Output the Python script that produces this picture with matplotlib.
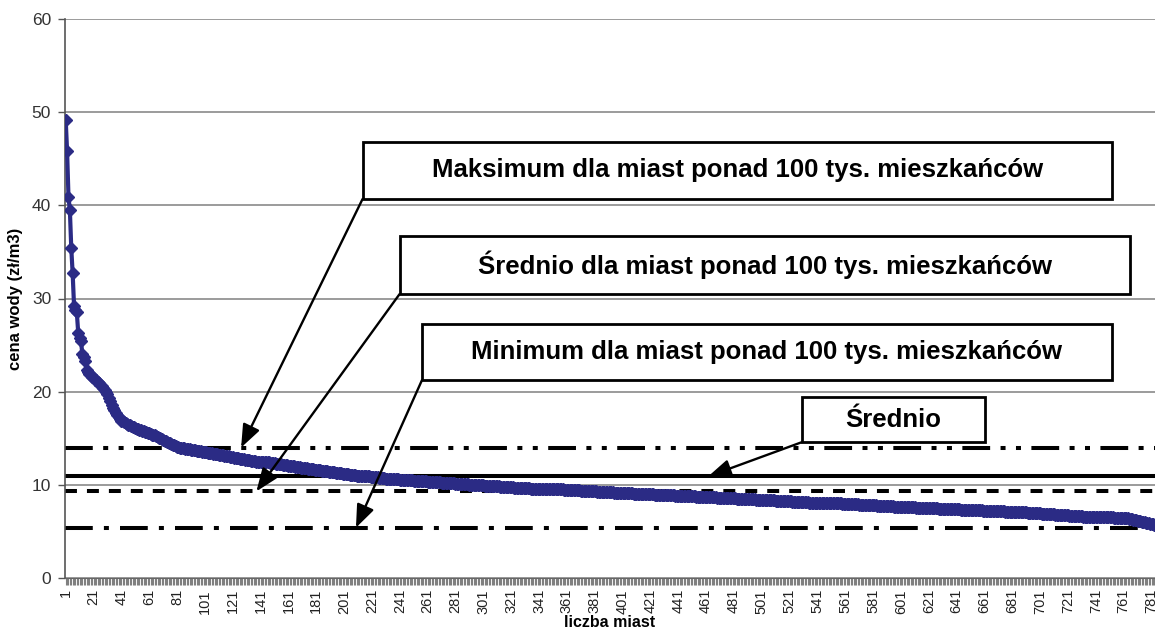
import numpy as np
import matplotlib
matplotlib.use("Agg")
import matplotlib.pyplot as plt
from matplotlib.patches import Rectangle

plt.rcParams['font.family'] = ['Liberation Sans', 'DejaVu Sans']
plt.rcParams['lines.scale_dashes'] = False

# water price per city, sorted descending (zl/m3)
prices = [
    49.2, 45.8, 40.9, 39.5, 35.4, 32.7, 29.2, 28.8, 28.5,
    26.3, 25.8, 25.4, 24.0, 23.7, 23.3,
    22.3, 22.1, 21.9, 21.8, 21.6, 21.5, 21.3, 21.2, 21.0, 20.9, 20.7, 20.6, 20.4, 20.2, 20.0,
    19.7, 19.3, 19.0, 18.6, 18.3, 18.0, 17.7, 17.5, 17.3, 17.1, 16.9, 16.8, 16.7, 16.6,
    16.5, 16.4, 16.4, 16.3, 16.2, 16.2, 16.1, 16.0, 16.0, 15.9, 15.9, 15.8, 15.8, 15.7, 15.7, 15.6, 15.6,
    15.5, 15.4, 15.3, 15.3, 15.2, 15.1, 15.0, 15.0, 14.9, 14.8, 14.7, 14.7, 14.6, 14.5, 14.5, 14.4,
    14.3, 14.3, 14.2, 14.1, 14.1, 14.0,
    13.9, 13.9, 13.9,
    13.8, 13.8, 13.8, 13.8,
    13.7, 13.7, 13.7, 13.7,
    13.6, 13.6, 13.6, 13.6,
    13.5, 13.5, 13.5, 13.5,
    13.4, 13.4, 13.4, 13.4,
    13.3, 13.3, 13.3, 13.3,
    13.2, 13.2, 13.2, 13.2,
    13.1, 13.1, 13.1, 13.1,
    13.0, 13.0, 13.0,
    12.9, 12.9, 12.9, 12.9,
    12.8, 12.8, 12.8, 12.8,
    12.7, 12.7, 12.7, 12.7,
    12.6, 12.6, 12.6, 12.6,
    12.5, 12.5, 12.5, 12.5, 12.5,
    12.4, 12.4, 12.4, 12.4, 12.4,
    12.3, 12.3, 12.3, 12.3,
    12.2, 12.2, 12.2, 12.2, 12.2,
    12.1, 12.1, 12.1, 12.1,
    12.0, 12.0, 12.0, 12.0, 12.0,
    11.9, 11.9, 11.9, 11.9,
    11.8, 11.8, 11.8, 11.8, 11.8,
    11.7, 11.7, 11.7, 11.7, 11.7,
    11.6, 11.6, 11.6, 11.6, 11.6,
    11.5, 11.5, 11.5, 11.5, 11.5,
    11.4, 11.4, 11.4, 11.4, 11.4,
    11.3, 11.3, 11.3, 11.3, 11.3,
    11.2, 11.2, 11.2, 11.2, 11.2,
    11.1, 11.1, 11.1, 11.1, 11.1,
    11.0, 11.0, 11.0, 11.0, 11.0,
    10.9, 10.9, 10.9, 10.9, 10.9,
    10.8, 10.8, 10.8, 10.8, 10.8, 10.8,
    10.7, 10.7, 10.7, 10.7, 10.7,
    10.6, 10.6, 10.6, 10.6, 10.6, 10.6, 10.6, 10.6, 10.6, 10.6,
    10.5, 10.5, 10.5, 10.5, 10.5, 10.5, 10.5, 10.5, 10.5, 10.5,
    10.4, 10.4, 10.4, 10.4, 10.4, 10.4, 10.4, 10.4, 10.4, 10.4,
    10.3, 10.3, 10.3, 10.3, 10.3, 10.3, 10.3, 10.3, 10.3, 10.3,
    10.2, 10.2, 10.2, 10.2, 10.2, 10.2, 10.2, 10.2, 10.2, 10.2,
    10.1, 10.1, 10.1, 10.1, 10.1, 10.1, 10.1, 10.1, 10.1, 10.1,
    10.0, 10.0, 10.0, 10.0, 10.0, 10.0, 10.0, 10.0, 10.0, 10.0, 10.0,
    9.9, 9.9, 9.9, 9.9, 9.9, 9.9, 9.9, 9.9, 9.9, 9.9, 9.9,
    9.8, 9.8, 9.8, 9.8, 9.8, 9.8, 9.8, 9.8, 9.8, 9.8,
    9.7, 9.7, 9.7, 9.7, 9.7, 9.7, 9.7, 9.7, 9.7, 9.7, 9.7, 9.7,
    9.6, 9.6, 9.6, 9.6, 9.6, 9.6, 9.6, 9.6, 9.6, 9.6, 9.6, 9.6,
    9.5, 9.5, 9.5, 9.5, 9.5, 9.5, 9.5, 9.5, 9.5, 9.5, 9.5, 9.5,
    9.4, 9.4, 9.4, 9.4, 9.4, 9.4, 9.4, 9.4, 9.4, 9.4, 9.4, 9.4,
    9.3, 9.3, 9.3, 9.3, 9.3, 9.3, 9.3, 9.3, 9.3, 9.3, 9.3, 9.3,
    9.2, 9.2, 9.2, 9.2, 9.2, 9.2, 9.2, 9.2, 9.2, 9.2, 9.2, 9.2,
    9.1, 9.1, 9.1, 9.1, 9.1, 9.1, 9.1, 9.1, 9.1, 9.1, 9.1, 9.1, 9.1, 9.1,
    9.0, 9.0, 9.0, 9.0, 9.0, 9.0, 9.0, 9.0, 9.0, 9.0, 9.0, 9.0, 9.0, 9.0, 9.0,
    8.9, 8.9, 8.9, 8.9, 8.9, 8.9, 8.9, 8.9, 8.9, 8.9, 8.9, 8.9, 8.9, 8.9, 8.9,
    8.8, 8.8, 8.8, 8.8, 8.8, 8.8, 8.8, 8.8, 8.8, 8.8, 8.8, 8.8, 8.8, 8.8, 8.8,
    8.7, 8.7, 8.7, 8.7, 8.7, 8.7, 8.7, 8.7, 8.7, 8.7, 8.7, 8.7, 8.7, 8.7, 8.7,
    8.6, 8.6, 8.6, 8.6, 8.6, 8.6, 8.6, 8.6, 8.6, 8.6, 8.6, 8.6, 8.6, 8.6,
    8.5, 8.5, 8.5, 8.5, 8.5, 8.5, 8.5, 8.5, 8.5, 8.5, 8.5, 8.5, 8.5, 8.5,
    8.4, 8.4, 8.4, 8.4, 8.4, 8.4, 8.4, 8.4, 8.4, 8.4, 8.4, 8.4, 8.4, 8.4,
    8.3, 8.3, 8.3, 8.3, 8.3, 8.3, 8.3, 8.3, 8.3, 8.3, 8.3, 8.3,
    8.2, 8.2, 8.2, 8.2, 8.2, 8.2, 8.2, 8.2, 8.2, 8.2, 8.2, 8.2,
    8.1, 8.1, 8.1, 8.1, 8.1, 8.1, 8.1, 8.1, 8.1, 8.1, 8.1, 8.1,
    8.0, 8.0, 8.0, 8.0, 8.0, 8.0, 8.0, 8.0, 8.0, 8.0, 8.0, 8.0,
    7.9, 7.9, 7.9, 7.9, 7.9, 7.9, 7.9, 7.9, 7.9, 7.9, 7.9, 7.9,
    7.8, 7.8, 7.8, 7.8, 7.8, 7.8, 7.8, 7.8, 7.8, 7.8, 7.8, 7.8, 7.8,
    7.7, 7.7, 7.7, 7.7, 7.7, 7.7, 7.7, 7.7, 7.7, 7.7, 7.7, 7.7,
    7.6, 7.6, 7.6, 7.6, 7.6, 7.6, 7.6, 7.6, 7.6, 7.6, 7.6, 7.6, 7.6, 7.6, 7.6, 7.6,
    7.5, 7.5, 7.5, 7.5, 7.5, 7.5, 7.5, 7.5, 7.5, 7.5, 7.5, 7.5, 7.5, 7.5, 7.5, 7.5,
    7.4, 7.4, 7.4, 7.4, 7.4, 7.4, 7.4, 7.4, 7.4, 7.4, 7.4, 7.4, 7.4, 7.4, 7.4, 7.4,
    7.3, 7.3, 7.3, 7.3, 7.3, 7.3, 7.3, 7.3, 7.3, 7.3, 7.3, 7.3, 7.3, 7.3, 7.3, 7.3,
    7.2, 7.2, 7.2, 7.2, 7.2, 7.2, 7.2, 7.2, 7.2, 7.2, 7.2, 7.2, 7.2, 7.2, 7.2, 7.2,
    7.1, 7.1, 7.1, 7.1, 7.1, 7.1, 7.1, 7.1, 7.1, 7.1, 7.1, 7.1, 7.1, 7.1, 7.1, 7.1,
    7.0, 7.0, 7.0, 7.0, 7.0, 7.0, 7.0, 7.0, 7.0, 7.0,
    6.9, 6.9, 6.9, 6.9, 6.9, 6.9, 6.9, 6.9, 6.9, 6.9,
    6.8, 6.8, 6.8, 6.8, 6.8, 6.8, 6.8, 6.8, 6.8, 6.8,
    6.7, 6.7, 6.7, 6.7, 6.7, 6.7, 6.7, 6.7, 6.7, 6.7,
    6.6, 6.6, 6.6, 6.6, 6.6, 6.6, 6.6, 6.6, 6.6, 6.6, 6.6,
    6.5, 6.5, 6.5, 6.5, 6.5, 6.5, 6.5, 6.5, 6.5, 6.5, 6.5,
    6.4, 6.4, 6.4, 6.4, 6.4, 6.4, 6.4, 6.4, 6.4, 6.4,
    6.4, 6.3, 6.3, 6.3, 6.2, 6.2, 6.2, 6.1, 6.1, 6.1,
    6.0, 6.0, 6.0, 5.9, 5.9, 5.9, 5.8, 5.8, 5.8, 5.7,
]

# reference levels (zl/m3)
max_100k = 14.0
avg_all = 10.9
avg_100k = 9.3
min_100k = 5.4

labels = [
    "Maksimum dla miast ponad 100 tys. mieszkańców",
    "Średnio dla miast ponad 100 tys. mieszkańców",
    "Minimum dla miast ponad 100 tys. mieszkańców",
    "Średnio",
]

n = len(prices)
x = np.arange(1, n + 1)

fig = plt.figure(figsize=(11.55, 6.41), dpi=100)
ax = fig.add_axes([65 / 1155, 1 - 578 / 641, 1090 / 1155, 559 / 641])

navy = '#2b2b85'
ax.plot(x, prices, color=navy, lw=3, marker='D', ms=6.5, mfc=navy, mec=navy, zorder=3)

# horizontal reference lines
lw_ref = 2.9
ax.axhline(max_100k, color='black', lw=lw_ref, linestyle=(0, (20, 7.5, 3.6, 7.5, 3.6, 7.5)), zorder=2)
ax.axhline(avg_all, color='black', lw=lw_ref, zorder=2)
ax.axhline(avg_100k, color='black', lw=lw_ref, linestyle=(0, (8.6, 7.2)), zorder=2)
ax.axhline(min_100k, color='black', lw=lw_ref, linestyle=(0, (20, 8, 3.6, 8)), zorder=2)

ax.set_xlim(0.5, n + 0.5)
ax.set_ylim(0, 60)
ax.set_yticks(range(0, 61, 10))
ax.yaxis.grid(True, color='#8a8a8a', lw=1.2)
ax.set_axisbelow(True)

ax.set_xticks(x)
ax.set_xticklabels([str(i) if (i - 1) % 20 == 0 else '' for i in x], rotation=90)
ax.tick_params(axis='x', length=5, width=0.8, color='#808080', labelsize=10.5, labelcolor='#222222', pad=3)
ax.tick_params(axis='y', length=5, width=1, color='#555555', labelsize=12.5, labelcolor='#333333', pad=5)

for side in ['top', 'right']:
    ax.spines[side].set_visible(False)
ax.spines['left'].set_color('#555555')
ax.spines['left'].set_linewidth(1.2)
ax.spines['bottom'].set_color('#666666')

ax.set_ylabel('cena wody (zł/m3)', fontsize=12, fontweight='bold', labelpad=6)
ax.set_xlabel('liczba miast', fontsize=11.5, fontweight='bold', labelpad=1)

# annotation boxes (axes fraction) and arrow tips (data)
boxes = [
    (0.273, 0.678, 0.688, 0.102),
    (0.307, 0.508, 0.670, 0.104),
    (0.3275, 0.354, 0.633, 0.100),
    (0.676, 0.243, 0.168, 0.081),
]
tips = [(127, max_100k), (138, avg_100k), (209.5, min_100k), (462.5, avg_all)]

for (bx, by, bw, bh), txt, tip in zip(boxes, labels, tips):
    ax.add_patch(Rectangle((bx, by), bw, bh, transform=ax.transAxes, facecolor='white',
                           edgecolor='black', lw=2, zorder=5, clip_on=False))
    ax.text(bx + bw / 2, by + bh / 2, txt, transform=ax.transAxes, ha='center', va='center',
            fontsize=18.5, fontweight='bold', zorder=6)
    ax.annotate('', xy=tip, xycoords='data', xytext=(bx, by), textcoords='axes fraction',
                arrowprops=dict(arrowstyle='-|>,head_length=1.4,head_width=0.55', color='black',
                                lw=1.7, shrinkA=0, shrinkB=0), zorder=4)

fig.savefig('out.png', dpi=100)
